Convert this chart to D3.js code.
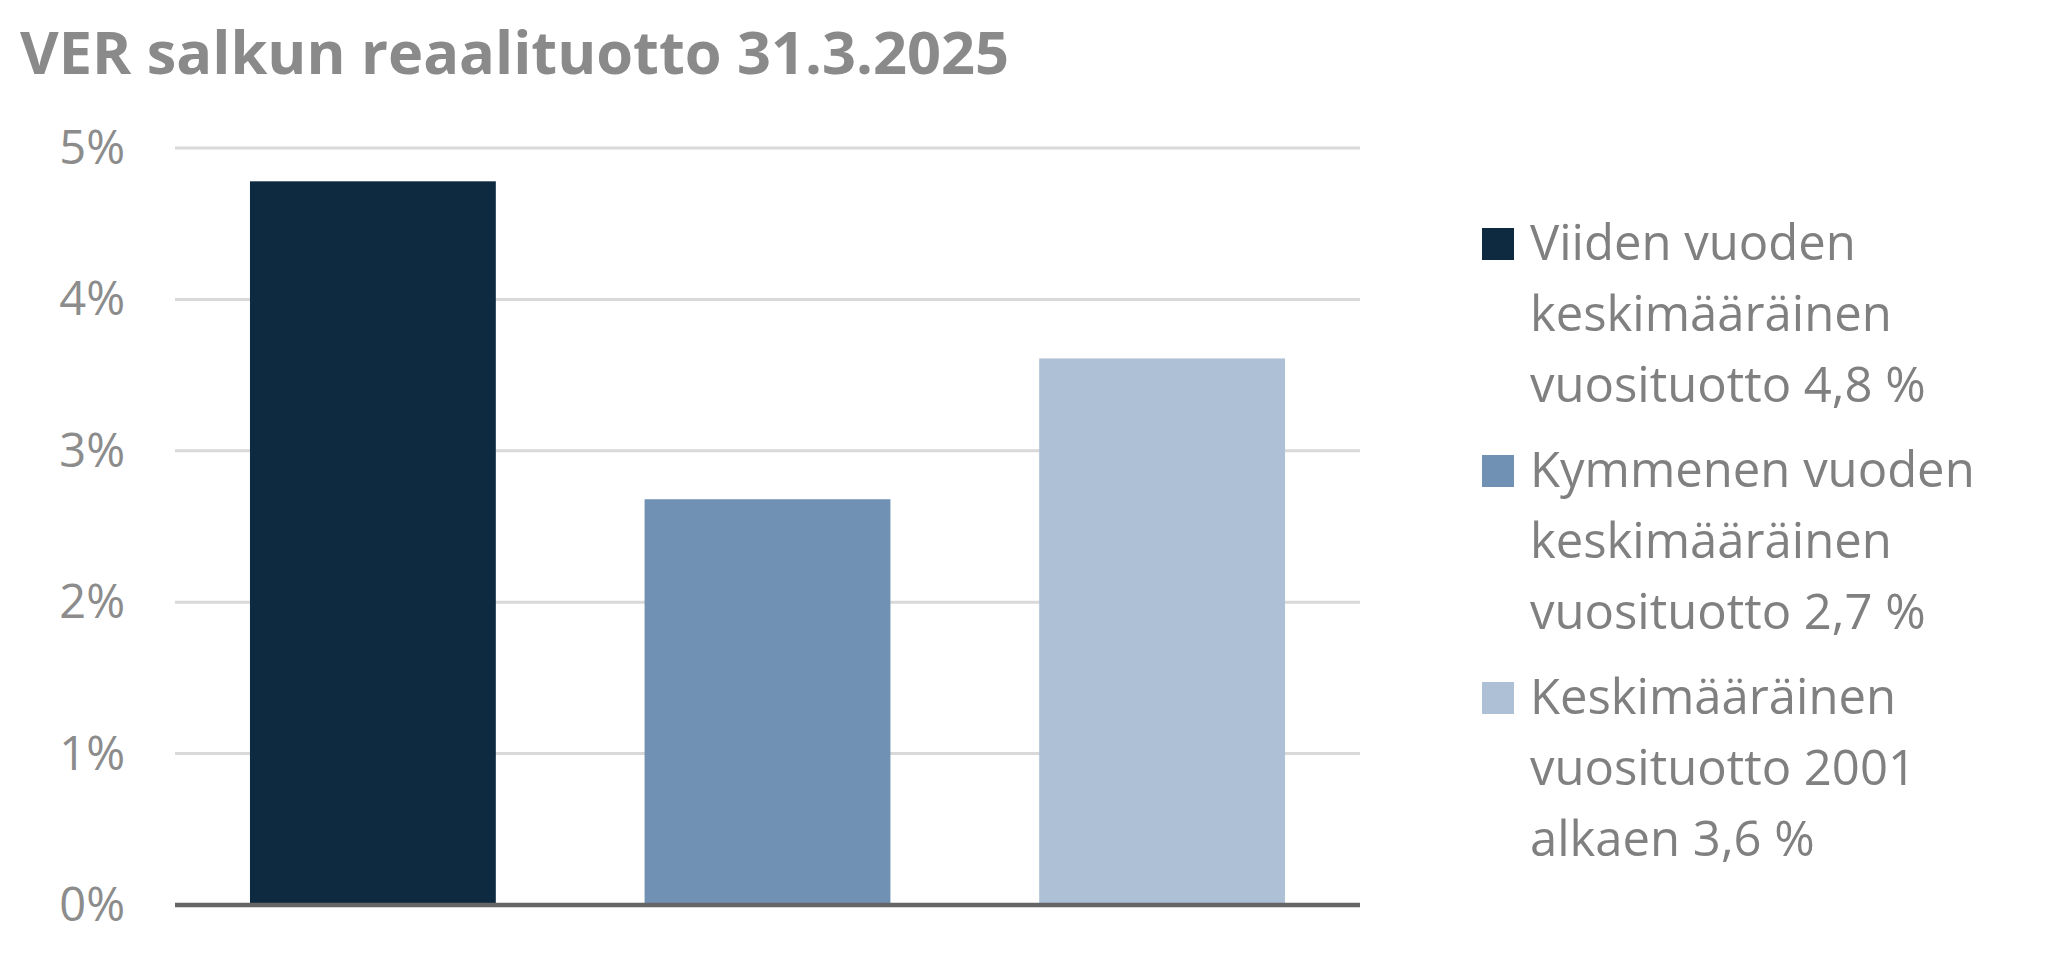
<!DOCTYPE html>
<html><head><meta charset="utf-8">
<script src="https://cdn.jsdelivr.net/npm/d3@7"></script>
<style>body{margin:0;background:#fff}</style></head>
<body><svg id="chart" width="2059" height="960"></svg>
<script>
// values
const categories = ["viisi", "kymmenen", "alkaen2001"];
const values = [4.78, 2.68, 3.61];
const colors = ["#0e2a40", "#7091b4", "#adc0d6"];
const yTicks = [0, 1, 2, 3, 4, 5];
const tickLabels = ["0%", "1%", "2%", "3%", "4%", "5%"];
const legendLines = [
  ["Viiden vuoden", "keskimääräinen", "vuosituotto 4,8 %"],
  ["Kymmenen vuoden", "keskimääräinen", "vuosituotto 2,7 %"],
  ["Keskimääräinen", "vuosituotto 2001", "alkaen 3,6 %"]
];
const title = "VER salkun reaalituotto 31.3.2025";

const svg = d3.select("#chart");
const font = "'Open Sans', sans-serif";

// --- Scales ---
const x = d3.scaleBand()
  .domain(categories)
  .range([175, 1360])
  .paddingInner(0.377)
  .paddingOuter(0.19);

const y = d3.scaleLinear()
  .domain([0, 5])
  .range([905, 148]);

// --- Title ---
svg.append("text")
  .attr("x", 20)
  .attr("y", 74)
  .style("font-family", font)
  .style("font-size", "59.5px")
  .style("font-weight", "bold")
  .attr("fill", "#8a8a8a")
  .text(title);

// --- Gridlines ---
svg.selectAll(".grid")
  .data(yTicks.filter(t => t > 0))
  .enter()
  .append("line")
  .attr("class", "grid")
  .attr("x1", x.range()[0]).attr("x2", x.range()[1])
  .attr("y1", d => y(d)).attr("y2", d => y(d))
  .attr("stroke", "#d9d9d9")
  .attr("stroke-width", 3);

// --- Tick labels ---
svg.selectAll(".tick-label")
  .data(yTicks)
  .enter()
  .append("text")
  .attr("class", "tick-label")
  .attr("x", 125)
  .attr("y", d => y(d) - 2)
  .attr("text-anchor", "end")
  .attr("dominant-baseline", "central")
  .style("font-family", font)
  .style("font-size", "47px")
  .attr("fill", "#8c8c8c")
  .text((d, i) => tickLabels[i]);

// --- Bars ---
svg.selectAll(".bar")
  .data(categories)
  .enter()
  .append("rect")
  .attr("class", "bar")
  .attr("x", d => x(d))
  .attr("width", x.bandwidth())
  .attr("y", (d, i) => y(values[i]))
  .attr("height", (d, i) => y(0) - y(values[i]))
  .attr("fill", (d, i) => colors[i]);

// --- Baseline ---
svg.append("line")
  .attr("x1", x.range()[0]).attr("x2", x.range()[1])
  .attr("y1", y(0)).attr("y2", y(0))
  .attr("stroke", "#666")
  .attr("stroke-width", 4.5);

// --- Legend ---
const legend = svg.selectAll(".legend")
  .data(legendLines)
  .enter()
  .append("g")
  .attr("class", "legend")
  .attr("transform", (d, i) => `translate(1482,${228 + i * 227})`);

legend.append("rect")
  .attr("width", 32).attr("height", 32)
  .attr("fill", (d, i) => colors[i]);

legend.each(function (lines) {
  const g = d3.select(this);
  lines.forEach((line, j) => {
    g.append("text")
      .attr("x", 48)
      .attr("y", 32 + j * 71)
      .style("font-family", font)
      .style("font-size", "49px")
      .attr("fill", "#808080")
      .text(line);
  });
});
</script></body></html>
